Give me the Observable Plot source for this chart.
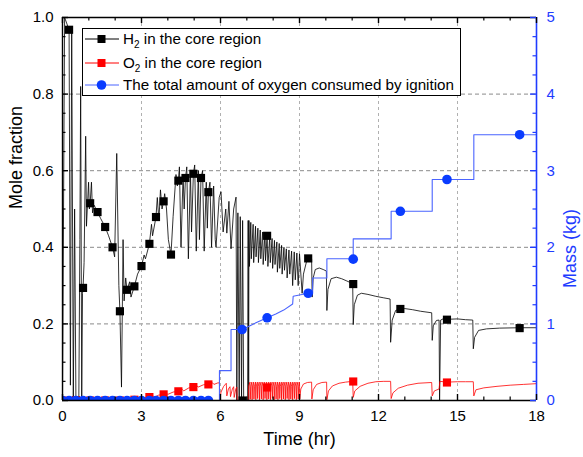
<!DOCTYPE html>
<html><head><meta charset="utf-8">
<script src="https://cdn.jsdelivr.net/npm/d3@7"></script>
<script src="https://cdn.jsdelivr.net/npm/@observablehq/plot@0.6"></script>
<style>
body{margin:0;background:#fff;font-family:"Liberation Sans",Arial,sans-serif;}
#wrap{position:relative;width:583px;height:457px;overflow:hidden;}
#legend{position:absolute;left:82px;top:28px;width:377px;height:66px;border:1px solid #000;background:#fff;}
#legend .row{position:absolute;left:0;height:20px;line-height:20px;font-size:15.2px;white-space:nowrap;color:#000;}
#legend svg{position:absolute;left:2px;top:4px;}
#legend span{position:absolute;left:40px;top:0;}
#legend sub{font-size:10px;vertical-align:-4px;line-height:0;}
</style></head>
<body><div id="wrap"></div>
<script>
// ---------- data ----------
const xMajor = [0, 3, 6, 9, 12, 15, 18];
const xMinor = [1, 2, 4, 5, 7, 8, 10, 11, 13, 14, 16, 17];
const yMajor = [0, 0.2, 0.4, 0.6, 0.8, 1.0];
const yMinor = [0.05, 0.1, 0.15, 0.25, 0.3, 0.35, 0.45, 0.5, 0.55, 0.65, 0.7, 0.75, 0.85, 0.9, 0.95];
const yGrid = [0.2, 0.4, 0.6, 0.8];
const xGrid = [3, 6, 9, 12, 15];
const massTicks = [0, 1, 2, 3, 4, 5];
const MASS_MAX = 5;

// H2 mole fraction in core region: [time (hr), mole fraction]
const h2Line = [
[0,0],[0.04,0.5],[0.08,1.0],[0.25,0.968],[0.30,0.04],[0.35,0.97],[0.41,0.0],[0.46,0.5],[0.51,0.0],[0.62,0.0],
[0.66,0.42],[0.69,0.82],[0.73,0.0],[0.76,0.28],[0.78,0.294],[0.82,0.36],[0.88,0.69],[0.91,0.455],[0.99,0.57],[1.02,0.50],
[1.05,0.515],[1.10,0.57],[1.14,0.49],[1.20,0.51],[1.33,0.492],[1.45,0.475],[1.62,0.453],[1.75,0.43],[1.90,0.40],[1.98,0.375],
[2.06,0.645],[2.14,0.30],[2.18,0.233],[2.24,0.035],[2.30,0.42],[2.34,0.26],[2.40,0.32],[2.45,0.289],[2.55,0.31],[2.60,0.27],
[2.73,0.298],[2.85,0.33],[3.00,0.351],[3.10,0.38],[3.15,0.37],[3.30,0.409],[3.38,0.46],[3.42,0.43],[3.55,0.479],[3.60,0.53],
[3.66,0.47],[3.72,0.55],[3.78,0.50],[3.84,0.52],[3.88,0.54],[3.95,0.50],[4.02,0.42],[4.12,0.381],[4.20,0.48],[4.31,0.59],
[4.36,0.56],[4.40,0.574],[4.44,0.61],[4.50,0.40],[4.58,0.59],[4.62,0.50],[4.67,0.581],[4.72,0.61],[4.78,0.37],[4.86,0.60],
[4.90,0.44],[4.97,0.592],[5.02,0.615],[5.08,0.39],[5.16,0.60],[5.20,0.42],[5.26,0.581],[5.32,0.60],[5.38,0.39],[5.46,0.57],
[5.50,0.45],[5.54,0.544],[5.60,0.57],[5.66,0.40],[5.74,0.56],[5.80,0.42],[5.83,0.40],[5.95,0.53],[6.02,0.545],[6.10,0.44],
[6.20,0.50],[6.24,0.437],[6.32,0.52],[6.40,0.396],[6.50,0.50],[6.59,0.531],[6.62,0.0],[6.66,0.49],[6.71,0.0],[6.75,0.48],
[6.80,0.0],[6.84,0.47],[6.88,0.0],[7.03,0.0],[7.05,0.47],[7.07,0.0],[7.08,0.47],[7.10,0.35],[7.15,0.465],[7.17,0.37],
[7.24,0.46],[7.26,0.36],
[7.33,0.455],[7.35,0.375],[7.42,0.45],[7.44,0.36],[7.51,0.445],[7.53,0.37],[7.60,0.44],[7.62,0.355],[7.69,0.437],[7.71,0.365],
[7.77,0.43],[7.80,0.35],[7.87,0.428],[7.89,0.36],[7.96,0.423],[7.98,0.345],[8.05,0.418],[8.07,0.355],[8.14,0.414],[8.16,0.335],
[8.23,0.41],[8.25,0.345],[8.32,0.405],[8.34,0.33],[8.41,0.40],[8.43,0.34],[8.50,0.396],[8.53,0.32],[8.60,0.393],[8.63,0.33],
[8.70,0.39],[8.74,0.30],[8.80,0.388],[8.84,0.315],[8.90,0.385],[8.95,0.30],[9.00,0.383],[9.10,0.28],[9.15,0.33],[9.30,0.372],
[9.36,0.375],[9.46,0.37],[9.48,0.27],[9.52,0.32],[9.60,0.342],[9.75,0.346],[9.90,0.342],[10.02,0.338],[10.04,0.235],[10.08,0.29],
[10.20,0.318],[10.40,0.322],[10.60,0.318],[10.80,0.312],[11.02,0.305],[11.04,0.198],[11.08,0.25],[11.20,0.275],[11.35,0.28],[11.60,0.277],
[11.90,0.272],[12.20,0.268],[12.44,0.265],[12.46,0.152],[12.52,0.21],[12.65,0.235],[12.83,0.239],[13.00,0.24],[13.30,0.237],[13.60,0.233],
[14.02,0.229],[14.04,0.157],[14.08,0.195],[14.20,0.209],[14.30,0.21],[14.32,0.0],[14.36,0.21],[14.45,0.213],[14.60,0.212],[15.00,0.213],
[15.30,0.211],[15.58,0.21],[15.60,0.135],[15.65,0.165],[15.80,0.183],[16.10,0.187],[16.60,0.189],[17.36,0.19],[18.00,0.19]
];
const h2Marks = [
[0.25,0.968],[0.51,0.0],[0.78,0.294],[1.05,0.515],[1.33,0.492],[1.62,0.453],[1.90,0.40],[2.18,0.233],[2.45,0.289],[2.73,0.298],
[3.00,0.351],[3.30,0.409],[3.55,0.479],[3.84,0.52],[4.12,0.381],[4.40,0.574],[4.67,0.581],[4.97,0.592],[5.26,0.581],[5.54,0.544],
[6.84,0.0],[7.77,0.43],[9.33,0.371],[11.04,0.304],[12.83,0.239],[14.60,0.211],[17.36,0.189]
];

// O2 mole fraction in core region
const o2Line = [
[0,0.003],[1.0,0.003],[2.0,0.004],[3.0,0.006],[3.15,0.008],[3.30,0.009],[3.45,0.011],[3.50,0.009],[3.65,0.014],[3.84,0.016],
[3.95,0.019],[4.00,0.016],[4.20,0.022],[4.40,0.024],[4.55,0.029],[4.60,0.025],[4.80,0.033],[4.97,0.035],[5.10,0.039],[5.15,0.035],
[5.35,0.041],[5.54,0.042],[5.70,0.046],[5.75,0.042],[5.90,0.046],[5.96,0.046],[5.97,0.0],[6.02,0.022],[6.12,0.037],[6.22,0.045],
[6.24,0.012],[6.30,0.03],[6.36,0.036],[6.38,0.01],[6.45,0.03],[6.50,0.036],[6.52,0.008],[6.58,0.03],[6.62,0.035],[6.64,0.0],
[7.05,0.0],[7.07,0.038],[7.12,0.048],[7.13,0.003],[7.15,0.037],[7.19,0.048],[7.20,0.002],[7.22,0.038],[7.26,0.048],[7.27,0.004],
[7.29,0.037],[7.33,0.048],[7.34,0.002],[7.36,0.038],[7.40,0.048],[7.41,0.005],[7.43,0.037],[7.47,0.048],[7.48,0.002],[7.50,0.038],
[7.54,0.048],[7.55,0.004],[7.57,0.037],[7.61,0.048],[7.62,0.002],[7.64,0.038],[7.68,0.048],[7.69,0.005],[7.71,0.037],[7.75,0.048],
[7.76,0.002],[7.78,0.038],[7.82,0.048],[7.83,0.004],[7.85,0.037],[7.89,0.048],[7.90,0.002],[7.92,0.038],[7.96,0.048],[7.97,0.005],
[7.99,0.037],[8.03,0.048],[8.04,0.002],[8.06,0.038],[8.10,0.048],[8.11,0.004],[8.13,0.037],[8.17,0.048],[8.18,0.002],[8.20,0.038],
[8.24,0.048],[8.25,0.005],[8.27,0.037],[8.31,0.048],[8.32,0.002],[8.34,0.038],[8.38,0.048],[8.39,0.004],[8.41,0.037],[8.45,0.048],
[8.46,0.002],[8.48,0.038],[8.52,0.048],[8.53,0.005],[8.55,0.037],[8.59,0.048],[8.60,0.002],[8.62,0.038],[8.66,0.048],[8.67,0.004],
[8.69,0.037],[8.73,0.048],[8.74,0.002],[8.76,0.038],[8.80,0.048],[8.81,0.005],[8.83,0.037],[8.87,0.048],[8.88,0.002],[8.90,0.038],
[8.94,0.048],[8.95,0.004],[8.97,0.037],[9.00,0.048],[9.01,0.004],[9.05,0.03],[9.15,0.043],[9.30,0.047],[9.46,0.048],[9.47,0.004],
[9.52,0.028],[9.65,0.042],[9.85,0.047],[10.03,0.048],[10.04,0.002],[10.10,0.025],[10.25,0.038],[10.50,0.045],[10.75,0.048],[11.02,0.05],
[11.04,0.008],[11.10,0.025],[11.30,0.037],[11.60,0.045],[11.90,0.049],[12.20,0.05],[12.46,0.05],[12.48,0.005],[12.55,0.02],[12.75,0.032],
[13.10,0.04],[13.50,0.045],[14.02,0.047],[14.04,0.012],[14.12,0.025],[14.30,0.03],[14.33,0.05],[14.60,0.048],[15.00,0.049],[15.30,0.049],
[15.60,0.049],[15.62,0.012],[15.70,0.028],[16.00,0.033],[16.50,0.037],[17.00,0.04],[17.50,0.042],[18.00,0.044]
];
const o2Marks = [
[0,0.0],[0.51,0.0],[1.05,0.0],[1.62,0.0],[2.18,0.0],[2.73,0.002],[3.30,0.009],[3.84,0.016],[4.40,0.024],[4.97,0.035],
[5.54,0.042],[7.77,0.034],[11.04,0.0496],[14.60,0.047]
];

// Total amount of oxygen consumed by ignition: [time (hr), mass (kg)]
const massLine = [
[0,0],[5.96,0],[5.96,0.39],[6.40,0.39],[6.40,0.927],[6.82,0.927],[7.20,0.99],[7.25,1.0],[7.77,1.08],[8.10,1.13],
[8.40,1.18],[8.74,1.26],[8.76,1.36],[9.33,1.40],[9.50,1.40],[9.50,1.6],[10.04,1.6],[10.04,1.85],[11.04,1.85],[11.04,2.11],
[12.48,2.11],[12.48,2.47],[14.04,2.47],[14.04,2.885],[15.62,2.885],[15.62,3.47],[18.00,3.47]
];
const massMarks = [
[0,0],[0.25,0],[0.51,0],[0.78,0],[1.05,0],[1.33,0],[1.62,0],[1.90,0],[2.18,0],[2.45,0],[2.73,0],
[3.00,0],[3.30,0],[3.55,0],[3.84,0],[4.12,0],[4.40,0],[4.67,0],[4.97,0],[5.26,0],[5.54,0],
[6.82,0.927],[7.77,1.08],[9.33,1.40],[11.04,1.845],[12.83,2.47],[14.60,2.885],[17.36,3.47]
];

// ---------- chart ----------
const BLUE_AXIS = "#1f3cff";
const BLUE_LINE = "#4a64ff";
const BLUE_DOT = "#0a3cff";
const RED = "#ff0000";
const font = "'Liberation Sans', Arial, sans-serif";

const chart = Plot.plot({
  width: 583, height: 457,
  marginLeft: 62, marginRight: 47, marginTop: 17, marginBottom: 57,
  x: {domain: [0, 18]},
  y: {domain: [0, 1]},
  style: {fontFamily: font, fontSize: "15px", color: "#000", background: "#fff"},
  marks: [
    // grid
    Plot.ruleY(yGrid, {stroke: "#8a8a8a", strokeDasharray: "4,3", strokeWidth: 1}),
    Plot.ruleX(xGrid, {stroke: "#b0b0b0", strokeDasharray: "3,3", strokeWidth: 1}),
    // H2
    Plot.line(h2Line, {x: d => d[0], y: d => d[1], stroke: "#000", strokeWidth: 0.8, clip: true}),
    Plot.dot(h2Marks, {x: d => d[0], y: d => d[1], symbol: "square", r: 4.6, fill: "#000", stroke: "none", clip: true}),
    // O2
    Plot.line(o2Line, {x: d => d[0], y: d => d[1], stroke: RED, strokeWidth: 0.8, clip: true}),
    Plot.dot(o2Marks, {x: d => d[0], y: d => d[1], symbol: "square", r: 4.6, fill: RED, stroke: "none", clip: true}),
    // oxygen mass (right axis)
    Plot.line(massLine, {x: d => d[0], y: d => d[1] / MASS_MAX, stroke: BLUE_LINE, strokeWidth: 1.1, clip: true}),
    Plot.dot(massMarks, {x: d => d[0], y: d => d[1] / MASS_MAX, r: 4.8, fill: BLUE_DOT, stroke: "none", clip: true}),
    // frame
    Plot.ruleY([0, 1], {stroke: "#000", strokeWidth: 1.4}),
    Plot.ruleX([0], {stroke: "#000", strokeWidth: 1.4}),
    Plot.ruleX([18], {stroke: BLUE_AXIS, strokeWidth: 1.6}),
    // inward ticks: bottom / top
    Plot.ruleX(xMajor, {x: d => d, y1: 0, y2: 0, insetBottom: 6, stroke: "#000", strokeWidth: 1.4}),
    Plot.ruleX(xMinor, {x: d => d, y1: 0, y2: 0, insetBottom: 3.5, stroke: "#000", strokeWidth: 1.2}),
    Plot.ruleX(xMajor, {x: d => d, y1: 1, y2: 1, insetTop: 6, stroke: "#000", strokeWidth: 1.4}),
    Plot.ruleX(xMinor, {x: d => d, y1: 1, y2: 1, insetTop: 3.5, stroke: "#000", strokeWidth: 1.2}),
    // left / right
    Plot.ruleY(yMajor, {y: d => d, x1: 0, x2: 0, insetLeft: 6, stroke: "#000", strokeWidth: 1.4}),
    Plot.ruleY(yMinor, {y: d => d, x1: 0, x2: 0, insetLeft: 3.5, stroke: "#000", strokeWidth: 1.2}),
    Plot.ruleY(yMajor, {y: d => d, x1: 18, x2: 18, insetRight: 6, stroke: BLUE_AXIS, strokeWidth: 1.4}),
    Plot.ruleY(yMinor, {y: d => d, x1: 18, x2: 18, insetRight: 3.5, stroke: BLUE_AXIS, strokeWidth: 1.2}),
    // tick labels
    Plot.axisX(xMajor, {tickSize: 0, tickPadding: 10, fontSize: 15, label: null}),
    Plot.axisY(yMajor, {tickSize: 0, tickPadding: 9, fontSize: 15, tickFormat: d3.format(".1f"), label: null}),
    Plot.text(massTicks, {x: () => 18, y: d => d / MASS_MAX, text: d => String(d), dx: 10, textAnchor: "start", fill: BLUE_AXIS, fontSize: 15}),
    // axis titles
    Plot.text(["Time (hr)"], {frameAnchor: "bottom", dy: 44, fontSize: 18}),
    Plot.text(["Mole fraction"], {frameAnchor: "left", dx: -46, rotate: -90, fontSize: 18}),
    Plot.text(["Mass (kg)"], {frameAnchor: "right", dx: 34, rotate: -90, fontSize: 18, fill: BLUE_AXIS})
  ]
});

const wrap = document.getElementById("wrap");
wrap.appendChild(chart);

// legend
const legendItems = [
  {html: "H<sub>2</sub> in the core region", color: "#000", shape: "square", lineColor: "#000"},
  {html: "O<sub>2</sub> in the core region", color: RED, shape: "square", lineColor: RED},
  {html: "The total amount of oxygen consumed by ignition", color: BLUE_DOT, shape: "circle", lineColor: BLUE_LINE}
];
const rowTops = [0, 24, 46];
const legend = document.createElement("div");
legend.id = "legend";
legendItems.forEach((it, i) => {
  const row = document.createElement("div");
  row.className = "row";
  row.style.top = rowTops[i] + "px";
  const mark = it.shape === "square"
    ? `<rect x="12.5" y="2" width="8" height="8" fill="${it.color}"/>`
    : `<circle cx="16.5" cy="6" r="4.8" fill="${it.color}"/>`;
  row.innerHTML = `<svg width="36" height="12"><line x1="0" y1="6" x2="34" y2="6" stroke="${it.lineColor}" stroke-width="1"/>${mark}</svg><span>${it.html}</span>`;
  legend.appendChild(row);
});
wrap.appendChild(legend);
</script>
</body></html>
